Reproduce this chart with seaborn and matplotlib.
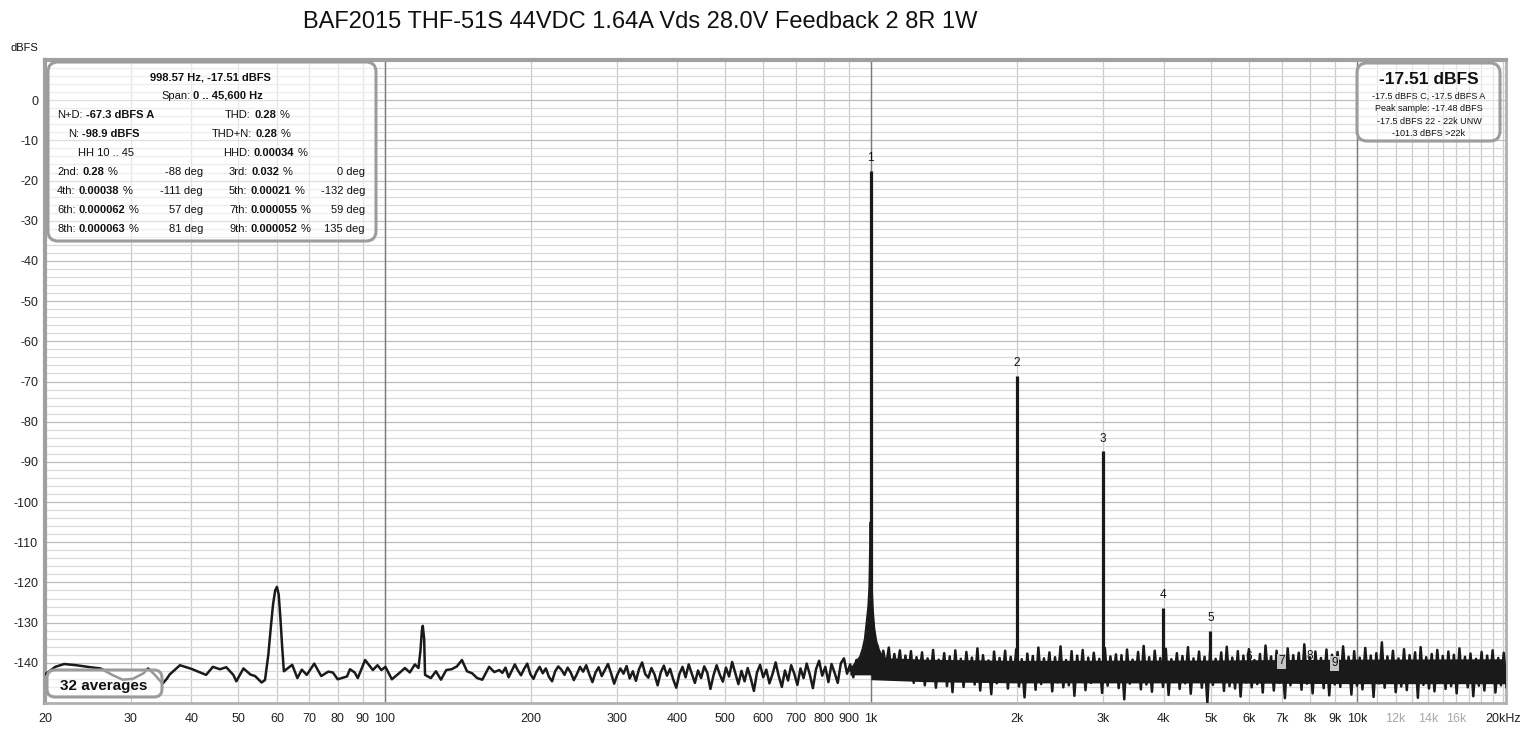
import numpy as np
import pandas as pd
import matplotlib.pyplot as plt
import seaborn as sns
from matplotlib.patches import FancyBboxPatch
from matplotlib.transforms import IdentityTransform
from matplotlib.ticker import NullFormatter
from matplotlib.text import Annotation

# low frequency part of the trace (Hz, dBFS)
lf_freq = [20, 21.0, 21.9, 23.2, 24.8, 26.0, 27.6, 28.9, 30.3, 31.9, 32.6, 33.6, 34.9, 35.6, 36.1,
           37.9, 40.0, 42.9, 44.3, 45.8, 47.2, 48.8, 49.5, 51.2, 52.9, 54.1, 55.8, 56.7, 57.6, 58.3,
           58.9, 59.5, 60.0, 60.5, 61.0, 61.5, 62.0, 64.5, 66.1, 67.5, 69.1, 71.6, 74.0, 76.5, 78.2,
           80.0, 83.6, 84.8, 86.7, 88.0, 91.1, 94.5, 96.6, 98.4, 100.3, 103.4, 107, 110, 112.6, 115.3,
           117.3, 118.4, 119.2, 119.7, 120.5, 121.0, 124.4, 127.4, 130.5, 133.8, 137.2, 140.7, 144.1,
           147.6, 151.2, 154.9, 158.7, 163.9, 168.0]
lf_db = [-142.9, -141.0, -140.3, -140.6, -141.1, -141.4, -143.1, -144.2, -144.0, -142.6, -141.4,
         -142.9, -145.2, -144.0, -142.9, -140.6, -141.5, -143.0, -141.0, -141.6, -141.1, -143.0,
         -144.6, -141.4, -142.9, -143.3, -144.9, -144.3, -138.0, -131.0, -125.5, -122.0, -121.1,
         -123.0, -129.0, -136.0, -142.1, -140.5, -143.8, -141.7, -143.0, -140.2, -143.3, -142.2,
         -142.4, -144.1, -143.4, -141.6, -142.4, -143.8, -139.3, -141.8, -140.6, -141.8, -141.0,
         -144.1, -142.6, -141.3, -142.4, -140.4, -141.3, -137.0, -132.0, -130.8, -134.0, -143.0,
         -143.8, -142.1, -144.2, -141.8, -141.6, -140.9, -139.3, -142.1, -142.6, -143.8, -144.2,
         -141.0, -142.3]

# noise between 172 Hz and 990 Hz (equal log steps)
mid_db = [-141.8, -142.5, -141.2, -143.6, -142.0, -140.4, -141.9, -143.1, -141.5, -140.2,
          -142.8, -144.0, -142.2, -141.0, -142.6, -141.4, -143.5, -144.6, -142.1, -140.9,
          -141.7, -143.0, -141.2, -142.4, -144.3, -142.8, -141.0, -142.2, -140.6, -142.9,
          -144.8, -142.4, -141.1, -143.3, -141.8, -140.3, -142.6, -145.2, -143.0, -141.4,
          -142.7, -140.8, -143.9, -142.1, -144.5, -141.6, -139.9, -142.8, -143.7, -141.3,
          -142.9, -145.6, -142.4, -140.7, -143.2, -141.5, -144.1, -146.2, -142.8, -141.0,
          -143.6, -140.4, -142.7, -145.0, -141.9, -143.8, -140.9, -142.5, -146.5, -143.1,
          -140.6, -142.9, -144.7, -141.2, -143.4, -139.8, -142.6, -145.3, -142.0, -144.6,
          -141.3, -143.9, -147.0, -142.4, -140.5, -143.6, -141.7, -145.1, -142.8, -139.9,
          -143.3, -146.0, -141.9, -144.4, -140.6, -142.7, -145.5, -141.4, -143.8, -140.2,
          -142.9, -146.3, -141.6, -139.5, -143.2, -141.0, -144.8, -140.3, -142.5, -145.0,
          -140.1, -138.9, -142.7, -140.4, -143.6, -139.3, -141.8, -138.6, -140.9, -139.2]

# noise between 1006 Hz and 20.3 kHz (equal log steps)
hf_db = [-136.5, -141.2, -135.8, -142.6, -137.0, -140.8, -136.2, -143.5, -137.8, -141.9,
         -136.9, -144.2, -138.2, -142.7, -137.1, -145.0, -138.6, -143.3, -137.4, -145.6,
         -138.9, -144.1, -136.8, -146.2, -139.2, -143.4, -137.6, -145.8, -138.4, -147.3,
         -136.9, -144.6, -139.0, -146.0, -137.3, -143.8, -138.7, -145.4, -136.4, -146.9,
         -138.1, -144.3, -139.4, -147.8, -137.2, -145.1, -138.8, -143.9, -137.0, -146.4,
         -138.5, -144.8, -136.6, -145.9, -139.1, -148.6, -137.7, -144.2, -138.3, -146.7,
         -136.2, -145.3, -138.9, -143.7, -137.4, -147.1, -138.6, -144.9, -135.9, -146.1,
         -139.3, -145.6, -137.1, -148.2, -138.2, -144.4, -136.8, -146.8, -138.7, -145.0,
         -137.5, -143.6, -139.0, -147.5, -136.3, -145.7, -138.4, -144.1, -137.9, -146.3,
         -138.1, -149.1, -136.7, -145.2, -139.2, -144.7, -137.3, -146.6, -135.8, -145.4,
         -138.6, -147.2, -137.0, -144.5, -138.8, -146.0, -136.5, -148.0, -139.1, -144.8,
         -137.6, -146.5, -138.3, -145.1, -136.1, -147.7, -138.9, -144.3, -137.2, -146.2,
         -138.5, -150.0, -136.9, -145.5, -139.0, -144.6, -137.4, -147.0, -136.0, -145.8,
         -138.7, -146.4, -137.1, -148.4, -138.2, -144.9, -136.6, -146.1, -139.3, -145.3,
         -137.8, -147.4, -135.7, -144.4, -138.4, -146.9, -137.0, -145.0, -138.9, -148.8,
         -136.4, -145.6, -138.1, -144.2, -137.5, -146.7, -135.4, -145.2, -138.6, -147.6,
         -137.2, -144.7, -138.8, -146.3, -136.7, -148.1, -138.0, -145.4, -137.3, -146.0,
         -135.9, -144.5, -138.5, -147.9, -137.1, -145.7, -138.7, -146.6, -136.3, -144.8,
         -138.2, -148.5, -137.6, -145.1, -134.9, -146.2, -138.4, -144.6, -137.0, -147.3,
         -138.9, -145.9, -136.6, -146.8, -138.1, -144.3, -137.4, -148.7, -136.1, -145.5,
         -138.6, -146.4, -137.8, -147.1, -136.8, -144.9, -138.3, -146.5, -137.2, -145.8,
         -138.0, -147.6, -136.4, -145.0, -138.5, -146.1, -137.7, -148.3, -139.0, -145.7,
         -137.3, -146.9, -138.2, -144.7, -136.9, -147.4, -138.8, -145.6, -137.5, -146.2]

# solid core of the noise band
core_freq = [1000, 1300, 2000, 5000, 10000, 20300]
core_hi = [-138.6, -139.1, -139.4, -139.3, -139.1, -139.0]
core_lo = [-144.2, -144.7, -145.0, -145.0, -145.2, -145.2]

# skirt of the fundamental
skirt_freq = [905, 930, 950, 962, 972, 980, 988, 993, 996, 998.57, 1001, 1004, 1009, 1016, 1025,
              1036, 1050, 1068, 1090]
skirt_db = [-142, -140, -138.5, -136.5, -134, -130, -126, -121, -112, -105, -112, -121, -127,
            -131.5, -134.5, -136.5, -138, -139, -140]

# harmonics
harm_freq = [998.57 * n for n in range(1, 10)]
harm_db = [-17.51, -68.6, -87.4, -126.3, -132.0, -141.7, -142.7, -141.5, -143.2]
harm_labels = ['1', '2', '3', '4', '5', '6', '7', '8', '9']
harm_boxed = [False, False, False, False, False, False, True, False, True]

x_ticks = [20, 30, 40, 50, 60, 70, 80, 90, 100, 200, 300, 400, 500, 600, 700, 800, 900,
           1000, 2000, 3000, 4000, 5000, 6000, 7000, 8000, 9000, 10000, 12000, 14000, 16000, 20000]
x_labels = ['20', '30', '40', '50', '60', '70', '80', '90', '100', '200', '300', '400', '500',
            '600', '700', '800', '900', '1k', '2k', '3k', '4k', '5k', '6k', '7k', '8k', '9k',
            '10k', '12k', '14k', '16k', '20kHz']
x_minor = [11000, 13000, 15000, 17000, 18000, 19000]
x_decades = [100, 1000, 10000]

sns.set_theme(style='white')
plt.rcParams['font.family'] = ['Liberation Sans', 'DejaVu Sans']
plt.rcParams['axes.unicode_minus'] = False

W, H = 1526, 729
fig = plt.figure(figsize=(W / 100, H / 100), dpi=100)
ax = fig.add_axes([45 / W, 26 / H, (1506 - 45) / W, (703 - 60) / H])

trace = pd.DataFrame({
    'freq': np.concatenate([lf_freq, np.geomspace(172, 990, len(mid_db)),
                            np.geomspace(1006, 20300, len(hf_db))]),
    'db': np.concatenate([lf_db, mid_db, hf_db]),
})

for f in x_decades:
    ax.axvline(f, color='#7a7a7a', lw=1, zorder=1)
ax.fill_between(core_freq, core_lo, core_hi, color='k', lw=0, zorder=2)
sns.lineplot(data=trace, x='freq', y='db', ax=ax, color='k', lw=1.8, sort=False,
             estimator=None, zorder=3)
ax.fill_between(skirt_freq, skirt_db, -143, color='k', lw=0, zorder=3)
sns.lineplot(x=skirt_freq, y=skirt_db, ax=ax, color='k', lw=1.5, sort=False,
             estimator=None, zorder=3)
ax.vlines(harm_freq, -141, harm_db, color='k', lw=2.3, zorder=3)

for f, d, lab, boxed in zip(harm_freq, harm_db, harm_labels, harm_boxed):
    kw = {}
    if boxed:
        kw['bbox'] = dict(boxstyle='square,pad=0.12', fc='#c4c4c4', ec='none')
    ax.annotate(lab, (f, d), xytext=(0, 9), textcoords='offset points', ha='center',
                va='center', fontsize=8.5, color='#111', zorder=4, **kw)

ax.set_xscale('log')
ax.set_xlim(20, 20250)
ax.set_ylim(-150, 10)
ax.set_xlabel('')
ax.set_ylabel('')

ax.set_xticks(x_ticks)
ax.set_xticklabels(x_labels)
ax.set_xticks(x_minor, minor=True)
ax.xaxis.set_minor_formatter(NullFormatter())
ax.set_yticks(np.arange(-140, 1, 10))
ax.set_yticks(np.arange(-150, 11, 2), minor=True)
ax.tick_params(which='both', length=0, labelsize=9, colors='#222')
ax.tick_params(axis='x', pad=7)
ax.tick_params(axis='y', pad=5)
for lab in ax.get_xticklabels():
    if lab.get_text() in ('12k', '14k', '16k'):
        lab.set_color('#a8a8a8')

ax.grid(which='major', axis='x', color='#cbcbcb', lw=0.9)
ax.grid(which='minor', axis='x', color='#cbcbcb', lw=0.9)
ax.grid(which='major', axis='y', color='#bcbcbc', lw=0.9)
ax.grid(which='minor', axis='y', color='#dadada', lw=0.9)
ax.set_axisbelow(True)

for side in ('left', 'top'):
    ax.spines[side].set_color('#a0a0a0')
    ax.spines[side].set_linewidth(3)
for side in ('right', 'bottom'):
    ax.spines[side].set_color('#b0b0b0')
    ax.spines[side].set_linewidth(2)

# helpers in pixel coordinates (y from the top)
pix = IdentityTransform()


def box(x0, y0, x1, y1, r):
    p = FancyBboxPatch((x0, H - y1), x1 - x0, y1 - y0,
                       boxstyle=f'round,pad=0,rounding_size={r}', transform=pix,
                       fc=(1, 1, 1, 0.55), ec='#9c9c9c', lw=2.2, zorder=5)
    fig.add_artist(p)


def put(x, y, text, bold=False, size=8, ha='left'):
    return fig.text(x, H - y, text, transform=pix, ha=ha, va='center', fontsize=size,
                    fontweight='bold' if bold else 'normal', color='#111', zorder=6)


def chain(x, y, parts, size=8):
    prev = put(x, y, parts[0][0], parts[0][1], size)
    for txt, bold in parts[1:]:
        a = Annotation(txt, xy=(1, 0.5), xycoords=prev, xytext=(2.4, 0),
                       textcoords='offset points', va='center', ha='left',
                       fontsize=size, fontweight='bold' if bold else 'normal',
                       color='#111', annotation_clip=False)
        a.set_zorder(6)
        fig.add_artist(a)
        prev = a
    return prev


fig.text(640 / W, 1 - 22 / H, 'BAF2015 THF-51S 44VDC 1.64A Vds 28.0V Feedback 2 8R 1W',
         ha='center', va='center', fontsize=17, color='#111')
put(24, 48, 'dBFS', size=8, ha='center')

# left info box
box(48, 62, 376, 241, 10)
put(210, 77, '998.57 Hz, -17.51 dBFS', bold=True, ha='center')
chain(161, 96, [('Span:', False), ('0 .. 45,600 Hz', True)])
chain(57, 115, [('N+D:', False), ('-67.3 dBFS A', True)])
chain(225, 115, [('THD:', False), ('0.28', True), ('%', False)])
chain(68, 134, [('N:', False), ('-98.9 dBFS', True)])
chain(212, 134, [('THD+N:', False), ('0.28', True), ('%', False)])
put(78, 153, 'HH 10 .. 45')
chain(223, 153, [('HHD:', False), ('0.00034', True), ('%', False)])
rows = [('2nd:', '0.28', '-88 deg', '3rd:', '0.032', '0 deg'),
        ('4th:', '0.00038', '-111 deg', '5th:', '0.00021', '-132 deg'),
        ('6th:', '0.000062', '57 deg', '7th:', '0.000055', '59 deg'),
        ('8th:', '0.000063', '81 deg', '9th:', '0.000052', '135 deg')]
for i, (l1, v1, d1, l2, v2, d2) in enumerate(rows):
    y = 172 + 19 * i
    chain(57, y, [(l1, False), (v1, True), ('%', False)])
    put(203, y, d1, ha='right')
    chain(229, y, [(l2, False), (v2, True), ('%', False)])
    put(365, y, d2, ha='right')

# right level box
box(1357, 63, 1500, 141, 10)
put(1429, 80, '-17.51 dBFS', bold=True, size=12.5, ha='center')
for i, line in enumerate(['-17.5 dBFS C, -17.5 dBFS A', 'Peak sample: -17.48 dBFS',
                          '-17.5 dBFS 22 - 22k UNW', '-101.3 dBFS >22k']):
    put(1429, 96 + 12.5 * i, line, size=6.5, ha='center')

# averages box
box(47, 670, 162, 697, 8)
put(104, 686, '32 averages', bold=True, size=11, ha='center')

fig.savefig('out.png', dpi=100)
